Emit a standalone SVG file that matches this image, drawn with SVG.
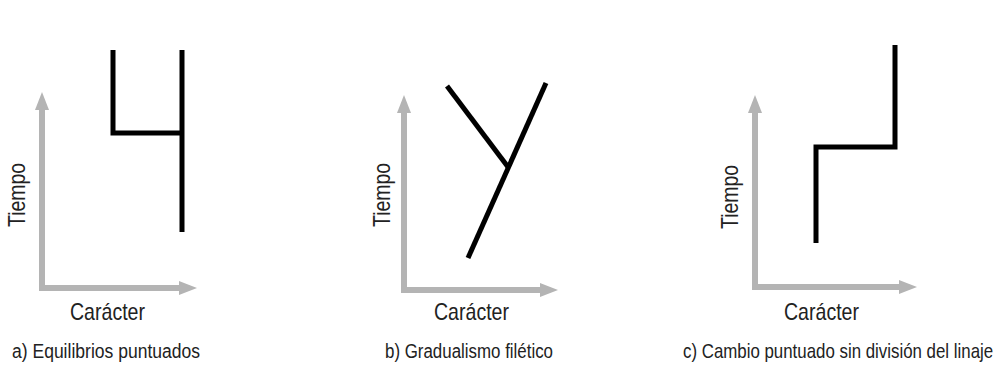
<svg xmlns="http://www.w3.org/2000/svg" width="998" height="365" viewBox="0 0 998 365">
<style>
.axis{fill:none;stroke:#b4b4b4;stroke-width:6;stroke-linejoin:miter;marker-start:url(#ah);marker-end:url(#ah)}
.lin{fill:none;stroke:#000;stroke-width:5;stroke-linejoin:miter;stroke-linecap:butt}
.lbl{font-family:"Liberation Sans",Arial,sans-serif;font-size:24px;fill:#222;text-anchor:middle}
.cap{font-family:"Liberation Sans",Arial,sans-serif;font-size:20px;fill:#222}
</style>
<defs>
<marker id="ah" markerUnits="userSpaceOnUse" viewBox="0 0 18 14" markerWidth="18" markerHeight="14" refX="0" refY="7" orient="auto-start-reverse">
<path d="M0,0 L18,7 L0,14 Z" fill="#b4b4b4"/>
</marker>
</defs>
<rect width="998" height="365" fill="#fff"/>
<g id="panel-a">
<path class="axis" d="M42,110 L42,288 L179,288"/>
<g id="lines-a"><path class="lin" d="M113,50 L113,133 L182,133"/><path class="lin" d="M182,50 L182,232"/></g>
<text class="lbl" transform="translate(25,195) rotate(-90)" textLength="64" lengthAdjust="spacingAndGlyphs">Tiempo</text>
<text class="lbl" x="107.5" y="320" textLength="75" lengthAdjust="spacingAndGlyphs">Carácter</text>
<text class="cap" x="12" y="358" textLength="188" lengthAdjust="spacingAndGlyphs">a) Equilibrios puntuados</text>
</g>
<g id="panel-b">
<path class="axis" d="M404,113 L404,290 L540,290"/>
<g id="lines-b"><path class="lin" d="M447,86 L508,167"/><path class="lin" d="M546,83 L468,258"/></g>
<text class="lbl" transform="translate(390,195) rotate(-90)" textLength="64" lengthAdjust="spacingAndGlyphs">Tiempo</text>
<text class="lbl" x="471.5" y="320" textLength="75" lengthAdjust="spacingAndGlyphs">Carácter</text>
<text class="cap" x="385" y="358" textLength="168" lengthAdjust="spacingAndGlyphs">b) Gradualismo filético</text>
</g>
<g id="panel-c">
<path class="axis" d="M755,113 L755,287 L899,287"/>
<g id="lines-c"><path class="lin" d="M816,243 L816,147 L895,147 L895,45"/></g>
<text class="lbl" transform="translate(738,197) rotate(-90)" textLength="64" lengthAdjust="spacingAndGlyphs">Tiempo</text>
<text class="lbl" x="821.5" y="320" textLength="75" lengthAdjust="spacingAndGlyphs">Carácter</text>
<text class="cap" transform="translate(683,358) scale(0.843,1)" textLength="367.9" lengthAdjust="spacingAndGlyphs">c) Cambio puntuado sin división del linaje</text>
</g>
</svg>
